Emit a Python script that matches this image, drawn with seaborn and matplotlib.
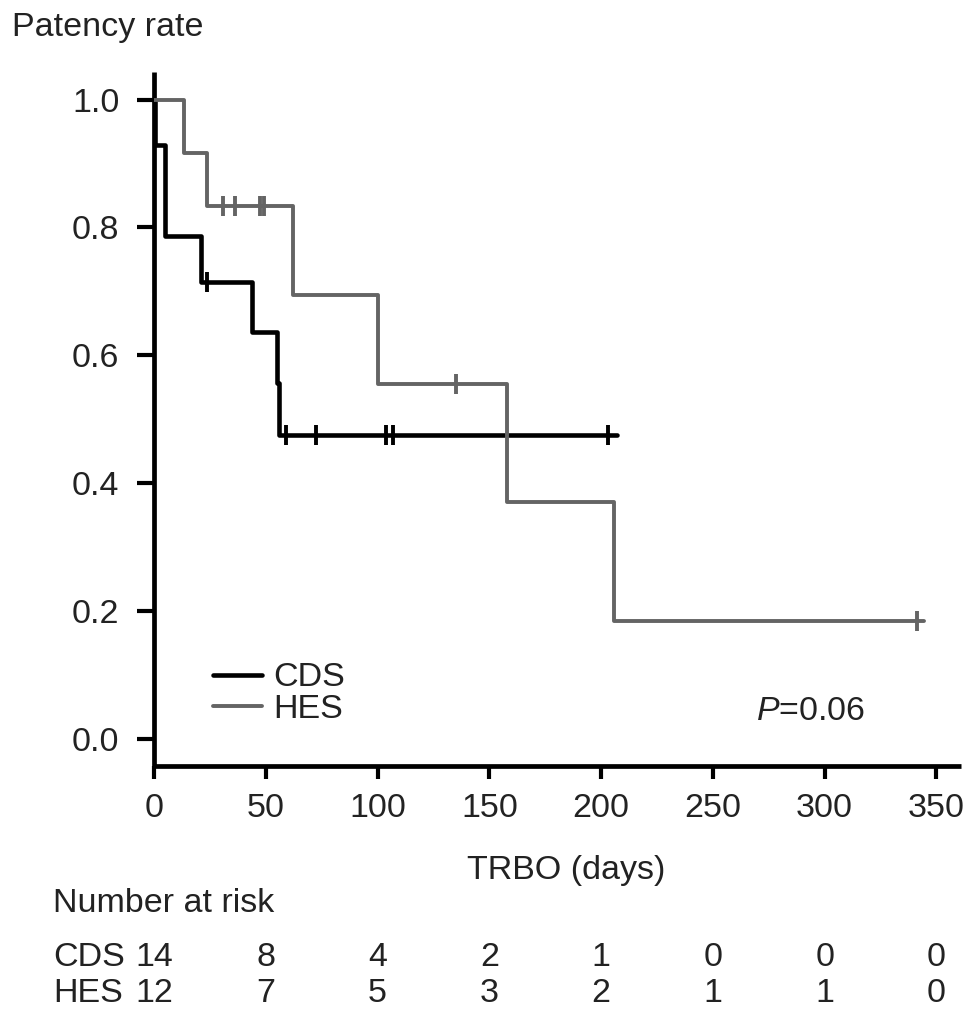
import numpy as np
import pandas as pd
import matplotlib
matplotlib.use("Agg")
import matplotlib.pyplot as plt
import seaborn as sns

# ---------------- data ----------------
cds_times = [0, 0.5, 5, 21, 44, 55, 56, 207]
cds_rate = [1.0, 0.929, 0.786, 0.714, 0.636, 0.557, 0.476, 0.476]
cds_censor = [23.5, 59, 72.5, 104, 107, 203]

hes_times = [0, 13.5, 23.6, 62.4, 100.2, 157.8, 205.9, 344.4]
hes_rate = [1.0, 0.917, 0.833, 0.694, 0.556, 0.370, 0.185, 0.185]
hes_censor = [30.8, 36.4, 47.4, 49.2, 135, 341.4]

risk_days = [0, 50, 100, 150, 200, 250, 300, 350]
cds_at_risk = [14, 8, 4, 2, 1, 0, 0, 0]
hes_at_risk = [12, 7, 5, 3, 2, 1, 1, 0]

groups = ["CDS", "HES"]
colors = {"CDS": "#000000", "HES": "#646464"}
y_ticks = [0.0, 0.2, 0.4, 0.6, 0.8, 1.0]
x_ticks = [0, 50, 100, 150, 200, 250, 300, 350]
p_label = "=0.06"

# ---------------- style ----------------
sns.set_style("ticks")
FONT = ["Liberation Sans", "DejaVu Sans"]
plt.rcParams["font.family"] = FONT
plt.rcParams["mathtext.fontset"] = "custom"
plt.rcParams["mathtext.it"] = "Liberation Sans:italic"
plt.rcParams["mathtext.rm"] = "Liberation Sans"
FS = 24.5

W, H = 969, 1019
fig = plt.figure(figsize=(W / 100, H / 100), dpi=100)
# axes box in pixels: left 154, right 961, top 72, bottom 766
ax = fig.add_axes([154 / W, 1 - 766 / H, (961 - 154) / W, (766 - 72) / H])


def step_value(times, rates, t):
    idx = np.searchsorted(times, t, side="right") - 1
    return rates[max(idx, 0)]


series = {
    "CDS": (cds_times, cds_rate, cds_censor, 3.3),
    "HES": (hes_times, hes_rate, hes_censor, 2.8),
}

for g in groups:
    t, r, c, lw = series[g]
    df = pd.DataFrame({"time": t, "rate": r})
    sns.lineplot(data=df, x="time", y="rate", drawstyle="steps-post",
                 estimator=None, sort=False, color=colors[g], lw=lw,
                 label=g, ax=ax, zorder=3)
    cdf = pd.DataFrame({"time": c,
                        "rate": [step_value(t, r, ci) for ci in c]})
    sns.scatterplot(data=cdf, x="time", y="rate", marker="|", s=190,
                    color=colors[g], linewidth=2.8, ax=ax, legend=False,
                    zorder=4)

ax.set_xlim(0, 361)
ax.set_ylim(-0.042, 1.043)
ax.set_xticks(x_ticks)
ax.set_yticks(y_ticks)
ax.set_yticklabels([f"{v:.1f}" for v in y_ticks])
ax.set_xticklabels([str(v) for v in x_ticks])

for s in ["top", "right"]:
    ax.spines[s].set_visible(False)
for s in ["left", "bottom"]:
    ax.spines[s].set_linewidth(3.4)
    ax.spines[s].set_color("black")
    ax.spines[s].set_capstyle("butt")

ax.tick_params(axis="y", length=12, width=3, pad=13, labelsize=FS,
               color="black", labelcolor="#222222")
ax.tick_params(axis="x", length=9.5, width=3, pad=10, labelsize=FS,
               color="black", labelcolor="#222222")

# axis labels
ax.set_xlabel("TRBO (days)", fontsize=FS, color="#222222")
ax.xaxis.label.set_va("center")
ax.xaxis.set_label_coords((566 - 154) / 807, (766 - 870) / 694)
ax.set_ylabel("Patency rate", fontsize=FS, color="#222222", rotation=0,
              ha="left", va="center")
ax.yaxis.set_label_coords((12 - 154) / 807, (766 - 27) / 694)

# legend
handles, labels = ax.get_legend_handles_labels()
ax.legend(handles, labels, loc="center left",
          bbox_to_anchor=((213 - 154) / 807, (766 - 693.5) / 694),
          frameon=False, fontsize=FS, handlelength=1.45, handletextpad=0.33,
          labelspacing=0.0, borderpad=0, borderaxespad=0)
for txt in ax.get_legend().get_texts():
    txt.set_color("#222222")

# p value
ax.text(318, 0.043, r"$P$" + p_label, fontsize=FS, ha="right", va="center",
        color="#222222")

# number at risk table
tr = ax.get_xaxis_transform()
ax.text((53 - 154) / 807, (766 - 903) / 694, "Number at risk",
        transform=ax.transAxes, fontsize=FS, ha="left", va="center",
        color="#222222")
rows = [("CDS", cds_at_risk, 957), ("HES", hes_at_risk, 993)]
for name, vals, ypix in rows:
    yf = (766 - ypix) / 694
    ax.text((53 - 154) / 807, yf, name, transform=ax.transAxes,
            fontsize=FS, ha="left", va="center", color="#222222")
    for d, v in zip(risk_days, vals):
        ax.text(d, yf, str(v), transform=tr, fontsize=FS, ha="center",
                va="center", color="#222222")

fig.savefig("out.png", dpi=100)
